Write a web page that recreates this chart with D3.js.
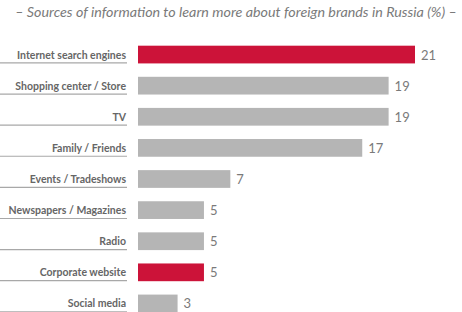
<!DOCTYPE html>
<html>
<head>
<meta charset="utf-8">
<script src="https://cdn.jsdelivr.net/npm/d3@7"></script>
<style>
  body { margin: 0; background: #fff; }
  svg text { font-family: Lato, "Open Sans", sans-serif; }
</style>
</head>
<body>
<div id="chart"></div>
<script>
var categories = ["Internet search engines", "Shopping center / Store", "TV", "Family / Friends",
                  "Events / Tradeshows", "Newspapers / Magazines", "Radio", "Corporate website", "Social media"];
var values = [21, 19, 19, 17, 7, 5, 5, 5, 3];
var highlighted = ["Internet search engines", "Corporate website"];
var title = "\u2013 Sources of information to learn more about foreign brands in Russia (%) \u2013";

function drawBarChart() {
    var width = 462, height = 312;
    var barLeft = 138;

    var svg = d3.select("#chart")
      .append("svg")
        .attr("width", width)
        .attr("height", height);

    // title
    svg.append("text")
      .attr("x", 236)
      .attr("y", 17)
      .attr("text-anchor", "middle")
      .style("font-style", "italic")
      .style("font-size", "14.3px")
      .style("fill", "#7a7a7a")
      .text(title);

    var x = d3.scaleLinear()
      .domain([0, 21])
      .range([barLeft, 415]);

    var y = d3.scaleBand()
      .domain(categories)
      .range([39, 319])
      .paddingInner(0.43)
      .paddingOuter(0.215);

    var rows = svg.append("g")
      .selectAll("g")
      .data(categories)
      .enter()
      .append("g");

    // label underline
    rows.append("line")
      .attr("x1", 0)
      .attr("x2", 127)
      .attr("y1", function (d) { return y(d) + y.bandwidth() - 0.5; })
      .attr("y2", function (d) { return y(d) + y.bandwidth() - 0.5; })
      .style("stroke", "#a8a8a8")
      .style("stroke-width", 1.2);

    // category labels
    rows.append("text")
      .attr("x", 126)
      .attr("y", function (d) { return y(d) + y.bandwidth() / 2 + 4; })
      .attr("text-anchor", "end")
      .style("font-weight", "bold")
      .style("font-size", "10.5px")
      .style("fill", "#666666")
      .text(function (d) { return d; });

    // bars
    rows.append("rect")
      .attr("x", x(0))
      .attr("y", function (d) { return y(d); })
      .attr("width", function (d, i) { return x(values[i]) - x(0); })
      .attr("height", y.bandwidth())
      .style("fill", function (d) { return highlighted.indexOf(d) >= 0 ? "#cc1339" : "#b5b5b5"; });

    // value labels
    rows.append("text")
      .attr("x", function (d, i) { return x(values[i]) + 6; })
      .attr("y", function (d) { return y(d) + y.bandwidth() / 2 + 5; })
      .style("font-size", "13px")
      .style("fill", "#7a7a7a")
      .text(function (d, i) { return values[i]; });
}

drawBarChart();
</script>
</body>
</html>
